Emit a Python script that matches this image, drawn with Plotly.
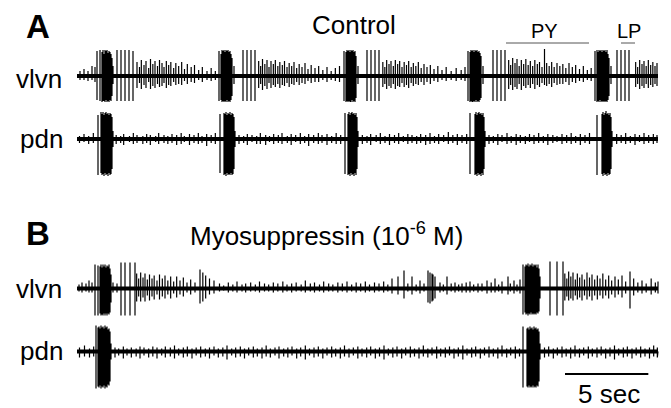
import plotly.graph_objects as go

# ---------------- data: spikes as (time s, up amplitude, down amplitude) ----------------
trace_end = 34.86          # s, recording length shown
scale_bar_len = 5.0        # s
scale_bar_start = 29.28    # s

a_vlvn = [
    (0.18, 5, 4), (0.42, 7, 4), (0.66, 5, 5), (0.90, 10, 4), (1.08, 9, 6), (1.20, 25, 24), (1.38, 26, 25),
    (1.50, 24, 26), (1.56, 26, 25), (1.62, 22, 25), (1.68, 26, 26), (1.74, 25, 24), (1.80, 26, 26),
    (1.86, 23, 25), (1.92, 25, 26), (1.98, 24, 24), (2.04, 22, 25), (2.10, 18, 20), (2.16, 10, 8),
    (2.40, 26, 25), (2.64, 26, 25), (2.88, 26, 25), (3.12, 26, 25), (3.36, 25, 25),
    (3.60, 14, 12), (3.75, 9, 7), (3.86, 16, 13), (4.02, 11, 9), (4.14, 15, 12), (4.30, 8, 6),
    (4.41, 17, 13), (4.55, 12, 10), (4.68, 15, 12), (4.83, 10, 8), (4.95, 16, 11), (5.10, 13, 10),
    (5.22, 9, 7), (5.36, 15, 12), (5.50, 11, 9), (5.63, 14, 10), (5.80, 8, 6), (5.93, 13, 9),
    (6.10, 10, 8), (6.28, 14, 9), (6.45, 7, 5), (6.62, 12, 8), (6.85, 9, 6), (7.05, 11, 7),
    (7.30, 6, 4), (7.52, 9, 6), (7.80, 5, 4), (8.05, 8, 5), (8.30, 5, 4),
    (8.52, 25, 25),
    (8.64, 22, 24), (8.70, 26, 26), (8.76, 25, 25), (8.82, 26, 26), (8.88, 24, 25), (8.94, 26, 26),
    (9.00, 25, 24), (9.06, 26, 26), (9.12, 24, 25), (9.18, 25, 26), (9.24, 22, 24), (9.30, 18, 20), (9.42, 10, 8),
    (9.96, 26, 25), (10.20, 26, 25), (10.44, 26, 25), (10.68, 26, 25),
    (10.90, 15, 12), (11.02, 10, 8), (11.13, 17, 14), (11.27, 12, 10), (11.40, 16, 13), (11.52, 9, 7),
    (11.64, 15, 12), (11.78, 12, 9), (11.90, 16, 11), (12.05, 10, 8), (12.17, 14, 12), (12.32, 11, 9),
    (12.45, 15, 10), (12.60, 9, 7), (12.73, 13, 11), (12.88, 10, 8), (13.02, 14, 9), (13.18, 8, 6),
    (13.33, 12, 9), (13.50, 9, 7), (13.68, 13, 8), (13.86, 7, 5), (14.05, 11, 7), (14.28, 8, 6),
    (14.50, 10, 6), (14.75, 6, 4), (15.00, 9, 6), (15.25, 5, 4), (15.50, 8, 5), (15.75, 10, 6),
    (16.02, 25, 25), (16.14, 24, 26), (16.20, 26, 25), (16.26, 25, 26), (16.32, 26, 25), (16.38, 24, 26),
    (16.44, 26, 26), (16.50, 25, 24), (16.56, 26, 26), (16.62, 24, 25), (16.68, 25, 26), (16.74, 20, 22), (16.86, 10, 8),
    (17.40, 26, 25), (17.64, 26, 25), (17.88, 26, 25), (18.12, 26, 25),
    (18.35, 14, 11), (18.47, 9, 8), (18.58, 16, 13), (18.72, 12, 10), (18.84, 15, 12), (18.98, 10, 8),
    (19.10, 16, 13), (19.24, 12, 10), (19.36, 15, 11), (19.50, 9, 7), (19.63, 14, 11), (19.77, 11, 9),
    (19.90, 15, 12), (20.05, 9, 7), (20.18, 13, 10), (20.33, 10, 8), (20.48, 14, 9), (20.65, 8, 6),
    (20.82, 12, 9), (21.00, 9, 6), (21.20, 11, 8), (21.42, 7, 5), (21.65, 10, 6), (21.90, 6, 4),
    (22.15, 9, 5), (22.45, 5, 4), (22.75, 8, 5), (23.05, 6, 4), (23.28, 9, 5),
    (23.46, 25, 25),
    (23.58, 24, 26), (23.64, 26, 25), (23.70, 25, 26), (23.76, 26, 26), (23.82, 24, 25), (23.88, 26, 26),
    (23.94, 25, 24), (24.00, 26, 26), (24.06, 24, 25), (24.12, 25, 26), (24.18, 23, 24), (24.24, 20, 22), (24.36, 10, 8),
    (24.96, 26, 25), (25.20, 26, 25), (25.44, 26, 25), (25.68, 26, 25),
    (25.90, 16, 13), (26.02, 11, 9), (26.14, 18, 14), (26.28, 13, 11), (26.40, 17, 13), (26.53, 10, 8),
    (26.66, 16, 14), (26.80, 12, 10), (26.93, 17, 12), (27.07, 11, 9), (27.20, 15, 12), (27.34, 10, 8),
    (27.47, 16, 13), (27.62, 12, 9), (27.75, 14, 11), (27.90, 9, 7), (28.05, 27, 9), (28.18, 13, 10),
    (28.33, 10, 8), (28.48, 14, 11), (28.63, 9, 7), (28.80, 13, 9), (28.97, 10, 8), (29.15, 12, 8),
    (29.33, 8, 6), (29.52, 13, 9), (29.72, 9, 6), (29.92, 11, 7), (30.15, 7, 5), (30.38, 10, 6),
    (30.62, 6, 4), (30.85, 8, 5),
    (31.08, 25, 25),
    (31.20, 26, 26), (31.26, 24, 25), (31.32, 26, 26), (31.38, 25, 24), (31.44, 26, 26), (31.50, 24, 25),
    (31.56, 26, 26), (31.62, 25, 25), (31.68, 26, 26), (31.74, 24, 25), (31.80, 26, 26), (31.86, 22, 24),
    (31.92, 18, 20), (32.04, 10, 8),
    (32.40, 26, 25), (32.64, 26, 25), (32.88, 26, 25), (33.12, 26, 25),
    (33.52, 14, 11), (33.64, 9, 8), (33.76, 16, 13), (33.90, 12, 10), (34.02, 15, 12), (34.15, 10, 8),
    (34.28, 16, 12), (34.42, 11, 9), (34.55, 14, 11), (34.68, 10, 8), (34.80, 13, 10),
]

a_pdn = [
    (0.15, 3, 4), (0.42, 5, 3), (0.70, 3, 5), (0.98, 6, 4),
    (1.26, 24, 36), (1.44, 27, 34),
    (1.50, 25, 36), (1.56, 27, 35), (1.62, 24, 37), (1.68, 26, 34), (1.74, 27, 36), (1.80, 25, 35),
    (1.86, 26, 37), (1.92, 24, 34), (1.98, 26, 36), (2.04, 25, 35), (2.10, 22, 30), (2.16, 8, 8),
    (2.35, 4, 5), (2.62, 3, 4), (2.80, 5, 6), (3.15, 3, 3), (3.38, 6, 5), (3.60, 4, 4), (3.95, 3, 5),
    (4.18, 5, 4), (4.40, 4, 6), (4.72, 3, 3), (4.90, 6, 5), (5.22, 4, 4), (5.45, 3, 5), (5.70, 5, 4),
    (5.98, 4, 6), (6.25, 6, 5), (6.44, 3, 3), (6.75, 5, 6), (7.02, 4, 4), (7.28, 6, 5), (7.50, 3, 4),
    (7.78, 5, 7), (8.05, 4, 4), (8.30, 6, 5),
    (8.58, 25, 34),
    (8.82, 26, 36), (8.88, 25, 35), (8.94, 27, 37), (9.00, 24, 34), (9.06, 26, 36), (9.12, 25, 35),
    (9.18, 27, 36), (9.24, 24, 34), (9.30, 26, 36), (9.36, 25, 35), (9.42, 22, 30), (9.48, 8, 8),
    (9.72, 4, 5), (10.00, 3, 4), (10.22, 5, 6), (10.50, 4, 3), (10.78, 3, 5), (11.00, 6, 5), (11.32, 4, 6),
    (11.55, 3, 3), (11.80, 5, 5), (12.08, 4, 4), (12.30, 6, 5), (12.62, 3, 4), (12.85, 5, 6), (13.12, 4, 3),
    (13.40, 6, 5), (13.66, 3, 4), (13.90, 5, 7), (14.20, 4, 4), (14.48, 6, 5), (14.70, 4, 4), (15.00, 5, 6),
    (15.28, 3, 4), (15.55, 6, 5), (15.82, 4, 5),
    (16.08, 26, 35),
    (16.26, 25, 36), (16.32, 27, 35), (16.38, 24, 37), (16.44, 26, 34), (16.50, 27, 36), (16.56, 25, 35),
    (16.62, 26, 37), (16.68, 24, 34), (16.74, 26, 36), (16.80, 22, 30), (16.86, 8, 8),
    (17.12, 4, 5), (17.40, 3, 4), (17.62, 5, 6), (17.95, 4, 3), (18.20, 6, 5), (18.48, 3, 4), (18.75, 5, 6),
    (19.05, 4, 4), (19.30, 6, 5), (19.58, 3, 3), (19.85, 5, 5), (20.10, 4, 4), (20.38, 3, 5), (20.62, 5, 4),
    (20.92, 4, 6), (21.18, 6, 5), (21.45, 3, 4), (21.70, 5, 5), (22.00, 4, 3), (22.28, 7, 5), (22.55, 4, 4),
    (22.82, 5, 6), (23.10, 4, 4), (23.38, 5, 5),
    (23.58, 26, 35),
    (23.88, 25, 36), (23.94, 27, 35), (24.00, 24, 37), (24.06, 26, 34), (24.12, 27, 36), (24.18, 25, 35),
    (24.24, 26, 37), (24.30, 24, 34), (24.36, 26, 36), (24.42, 22, 30), (24.48, 8, 8),
    (24.72, 4, 5), (24.98, 3, 4), (25.25, 5, 6), (25.50, 4, 3), (25.80, 6, 5), (26.05, 3, 4), (26.35, 5, 6),
    (26.60, 4, 4), (26.90, 3, 5), (27.15, 5, 3), (27.42, 4, 5), (27.70, 6, 4), (27.98, 3, 4), (28.25, 5, 6),
    (28.55, 4, 4), (28.80, 3, 3), (29.10, 5, 5), (29.38, 4, 4), (29.65, 6, 5), (29.92, 3, 4), (30.20, 5, 6),
    (30.48, 4, 4), (30.75, 6, 5),
    (31.20, 24, 36),
    (31.50, 25, 35), (31.56, 27, 37), (31.62, 24, 34), (31.68, 26, 36), (31.74, 28, 35), (31.80, 25, 37),
    (31.86, 26, 34), (31.92, 24, 36), (31.98, 26, 35), (32.04, 22, 30), (32.10, 8, 8),
    (32.38, 5, 5), (32.65, 4, 4), (32.92, 6, 5), (33.20, 3, 4), (33.48, 5, 6), (33.75, 4, 3), (34.02, 6, 5),
    (34.30, 4, 4), (34.58, 5, 5), (34.80, 4, 4),
]

b_vlvn = [
    (0.12, 4, 3), (0.30, 6, 4), (0.54, 5, 3), (0.72, 8, 4), (0.90, 6, 4),
    (1.08, 24, 27), (1.26, 23, 27),
    (1.38, 22, 25), (1.44, 24, 27), (1.50, 21, 26), (1.56, 24, 27), (1.62, 22, 25), (1.68, 24, 27),
    (1.74, 21, 25), (1.80, 23, 27), (1.86, 22, 25), (1.92, 24, 26), (1.98, 20, 24), (2.04, 14, 14),
    (2.16, 6, 4), (2.40, 5, 4),
    (2.64, 26, 27), (2.88, 26, 27), (3.18, 26, 27), (3.48, 26, 27),
    (3.58, 15, 13), (3.70, 10, 8), (3.82, 16, 13), (3.96, 11, 9), (4.08, 15, 13), (4.22, 9, 7),
    (4.35, 14, 12), (4.50, 10, 8), (4.63, 13, 11), (4.80, 8, 6), (4.95, 14, 11), (5.12, 10, 8),
    (5.28, 13, 10), (5.45, 8, 6), (5.62, 12, 10), (5.80, 7, 5), (5.98, 12, 9), (6.18, 8, 6),
    (6.38, 11, 8), (6.60, 6, 4), (6.82, 9, 6), (7.08, 6, 4), (7.38, 19, 15), (7.55, 16, 13),
    (7.72, 13, 10), (7.95, 10, 6), (8.22, 8, 5),
    (8.55, 5, 3), (8.80, 3, 2), (9.08, 6, 4), (9.35, 4, 3), (9.60, 7, 4), (9.90, 4, 3), (10.12, 5, 4),
    (10.42, 6, 3), (10.70, 4, 3), (10.95, 7, 4), (11.25, 5, 3), (11.50, 4, 3), (11.78, 6, 4), (12.05, 5, 3),
    (12.35, 7, 4), (12.60, 4, 3), (12.88, 5, 4), (13.15, 6, 3), (13.45, 4, 3), (13.70, 8, 4), (14.00, 5, 3),
    (14.25, 6, 4), (14.55, 4, 3), (14.80, 7, 4), (15.10, 5, 3), (15.35, 4, 3), (15.65, 6, 4), (15.92, 5, 3),
    (16.20, 7, 4), (16.48, 4, 3), (16.75, 6, 4), (17.02, 5, 3), (17.30, 7, 4), (17.55, 4, 3), (17.85, 6, 4),
    (18.12, 5, 3), (18.40, 7, 4), (18.65, 4, 3),
    (18.90, 10, 5), (19.26, 12, 6), (19.62, 18, 10), (19.85, 5, 3), (20.10, 12, 6), (20.35, 4, 3),
    (20.58, 8, 5), (20.82, 5, 3),
    (21.06, 18, 14), (21.18, 16, 15), (21.30, 15, 13), (21.36, 14, 12), (21.48, 12, 10), (21.78, 6, 4),
    (21.98, 4, 3), (22.20, 12, 6), (22.45, 5, 3), (22.68, 6, 4), (22.90, 4, 3), (23.10, 5, 4), (23.35, 6, 4),
    (23.58, 7, 4), (23.80, 4, 3), (24.06, 5, 4), (24.30, 5, 3), (24.60, 8, 5), (24.85, 6, 4), (25.08, 10, 4),
    (25.30, 4, 3), (25.50, 7, 5), (25.86, 12, 6), (26.00, 5, 3), (26.22, 8, 5), (26.40, 4, 3), (26.58, 9, 5),
    (26.76, 24, 26),
    (26.88, 22, 24), (26.94, 24, 26), (27.00, 23, 25), (27.06, 25, 27), (27.12, 22, 25), (27.18, 24, 26),
    (27.24, 23, 24), (27.30, 25, 26), (27.36, 22, 25), (27.42, 24, 26), (27.48, 23, 25), (27.54, 24, 26),
    (27.60, 21, 24), (27.66, 24, 25), (27.72, 20, 23), (27.78, 12, 10),
    (28.38, 27, 27), (28.80, 27, 27), (29.16, 27, 27),
    (29.27, 15, 12), (29.39, 10, 8), (29.50, 17, 12), (29.63, 12, 10), (29.76, 16, 12), (29.90, 9, 7),
    (30.02, 15, 11), (30.16, 11, 9), (30.30, 14, 12), (30.45, 9, 7), (30.60, 16, 11), (30.75, 11, 8),
    (30.90, 14, 12), (31.06, 9, 7), (31.22, 13, 11), (31.38, 10, 7), (31.55, 15, 10), (31.72, 9, 7),
    (31.90, 13, 10), (32.08, 8, 6), (32.28, 12, 9), (32.48, 9, 6), (32.70, 13, 9), (32.92, 7, 5),
    (33.18, 17, 20), (33.40, 10, 7), (33.65, 6, 4), (33.90, 8, 5), (34.15, 5, 4), (34.45, 10, 6),
    (34.70, 6, 4), (34.86, 7, 5),
]

b_pdn = [
    (0.15, 4, 6), (0.45, 6, 5), (0.75, 3, 6), (1.00, 5, 5),
    (1.14, 26, 37),
    (1.26, 24, 35), (1.32, 25, 36), (1.38, 23, 34), (1.44, 26, 37), (1.50, 24, 35), (1.56, 25, 36),
    (1.62, 23, 34), (1.68, 26, 37), (1.74, 24, 35), (1.80, 25, 36), (1.86, 22, 33), (1.92, 23, 34),
    (1.98, 20, 30), (2.04, 8, 8),
    (2.28, 4, 6), (2.50, 3, 4), (2.78, 5, 7), (3.00, 3, 4), (3.26, 4, 6), (3.55, 3, 5), (3.78, 5, 7),
    (4.02, 4, 4), (4.30, 3, 6), (4.55, 5, 5), (4.80, 4, 7), (5.08, 3, 4), (5.30, 5, 6), (5.60, 4, 5),
    (5.85, 6, 7), (6.10, 3, 4), (6.38, 4, 6), (6.62, 5, 5), (6.90, 3, 7), (7.15, 4, 4), (7.42, 5, 6),
    (7.70, 3, 5), (7.95, 4, 7), (8.22, 5, 4), (8.48, 3, 6), (8.75, 4, 5), (9.00, 6, 8), (9.28, 3, 4),
    (9.52, 4, 6), (9.80, 5, 5), (10.05, 3, 7), (10.30, 4, 4), (10.58, 5, 6), (10.82, 3, 5), (11.10, 4, 7),
    (11.35, 6, 5), (11.60, 3, 6), (11.88, 4, 4), (12.12, 5, 7), (12.40, 3, 5), (12.65, 4, 6), (12.90, 5, 4),
    (13.18, 3, 7), (13.42, 4, 5), (13.70, 6, 8), (13.95, 3, 4), (14.22, 4, 6), (14.48, 5, 5), (14.75, 3, 7),
    (15.00, 4, 4), (15.28, 5, 6), (15.52, 3, 5), (15.80, 4, 7), (16.05, 6, 5), (16.32, 3, 6), (16.58, 4, 4),
    (16.85, 5, 7), (17.10, 3, 5), (17.38, 4, 6), (17.62, 5, 4), (17.90, 3, 7), (18.15, 4, 5), (18.42, 6, 8),
    (18.68, 3, 4), (18.95, 4, 6), (19.20, 5, 5), (19.48, 3, 7), (19.72, 4, 4), (20.00, 5, 6), (20.25, 3, 5),
    (20.52, 4, 7), (20.78, 6, 5), (21.05, 3, 6), (21.30, 4, 4), (21.58, 5, 7), (21.82, 3, 5), (22.10, 4, 6),
    (22.35, 5, 4), (22.62, 3, 7), (22.88, 4, 5), (23.15, 6, 8), (23.40, 3, 4), (23.68, 4, 6), (23.92, 5, 5),
    (24.20, 3, 7), (24.45, 4, 4), (24.72, 5, 6), (24.98, 3, 5), (25.25, 4, 7), (25.50, 6, 5), (25.78, 3, 6),
    (26.02, 4, 4), (26.30, 5, 7), (26.55, 3, 5),
    (26.76, 25, 36),
    (27.00, 23, 35), (27.06, 24, 36), (27.12, 22, 34), (27.18, 25, 36), (27.24, 23, 35), (27.30, 24, 36),
    (27.36, 22, 34), (27.42, 25, 36), (27.48, 23, 35), (27.54, 24, 36), (27.60, 22, 34), (27.66, 23, 35),
    (27.72, 20, 30), (27.78, 8, 8),
    (28.05, 4, 6), (28.30, 5, 5), (28.58, 3, 7), (28.82, 4, 4), (29.10, 5, 6), (29.35, 3, 5), (29.62, 4, 7),
    (29.88, 6, 5), (30.15, 3, 6), (30.40, 4, 4), (30.68, 5, 7), (30.92, 3, 5), (31.20, 4, 6), (31.45, 5, 4),
    (31.72, 3, 7), (31.98, 4, 5), (32.25, 6, 8), (32.50, 3, 4), (32.78, 4, 6), (33.02, 5, 5), (33.30, 3, 7),
    (33.55, 4, 4), (33.82, 5, 6), (34.08, 3, 5), (34.35, 4, 7), (34.60, 6, 5), (34.82, 4, 6),
]

row_labels = ["vlvn", "pdn", "vlvn", "pdn"]

# ---------------- layout constants ----------------
W, H = 671, 408
PX0 = 77            # pixel where t = 0
SEC = 1 / 0.06      # pixels per second
offsets = [332, 269, 119.5, 56.5]   # baseline of each row (y units, bottom = 0)

def px2x(px):
    return px / W

def py2y(py):
    return 1 - py / H

def build(spikes, base):
    xs, ys = [0.0], [base]
    for t, up, dn in spikes:
        xs += [t, t, t, t]
        ys += [base, base + up, base - dn, base]
    xs.append(trace_end)
    ys.append(base)
    return xs, ys

fig = go.Figure()
for spikes, base in zip([a_vlvn, a_pdn, b_vlvn, b_pdn], offsets):
    fig.add_trace(go.Scatter(x=[0, trace_end], y=[base, base], mode="lines",
                             line=dict(color="black", width=4), hoverinfo="skip"))
    xs, ys = build(spikes, base)
    fig.add_trace(go.Scatter(x=xs, y=ys, mode="lines",
                             line=dict(color="black", width=1.2), hoverinfo="skip"))

# scale bar (5 s)
fig.add_trace(go.Scatter(x=[scale_bar_start, scale_bar_start + scale_bar_len], y=[408 - 374, 408 - 374],
                         mode="lines", line=dict(color="black", width=2), hoverinfo="skip"))

FONT = "Liberation Sans, Arial, Helvetica, sans-serif"
ann = []
def text(s, px, py, size=26, bold=False, xanchor="center", yanchor="middle"):
    ann.append(dict(text=f"<b>{s}</b>" if bold else s, x=px2x(px), y=py2y(py), xref="paper", yref="paper",
                    xanchor=xanchor, yanchor=yanchor, showarrow=False,
                    font=dict(family=FONT, size=size, color="black")))

text("A", 37.5, 27, size=33, bold=True)
text("B", 37.5, 234, size=33, bold=True)
text(row_labels[0], 39, 79.5)
text(row_labels[1], 41.5, 138.5)
text(row_labels[2], 39, 288.5)
text(row_labels[3], 41.5, 350.5)
text("Control", 354, 24.5)
text("Myosuppressin (10<sup>-6</sup> M)", 188, 234.5, xanchor="left")
text("PY", 544, 31.5, size=20)
text("LP", 628.5, 31.5, size=20)
text("5 sec", 609, 411, size=26, yanchor="bottom")

shapes = [
    dict(type="line", xref="x", yref="paper", x0=25.74, x1=30.72, y0=py2y(43), y1=py2y(43),
         line=dict(color="#555555", width=1)),
    dict(type="line", xref="x", yref="paper", x0=32.64, x1=33.48, y0=py2y(43), y1=py2y(43),
         line=dict(color="#555555", width=1)),
]

fig.update_layout(
    width=W, height=H, margin=dict(l=0, r=0, t=0, b=0),
    paper_bgcolor="white", plot_bgcolor="white", showlegend=False,
    xaxis=dict(range=[-PX0 / SEC, (W - PX0) / SEC], visible=False, fixedrange=True),
    yaxis=dict(range=[0, H], visible=False, fixedrange=True),
    annotations=ann, shapes=shapes,
)
fig.write_html("out.html")
